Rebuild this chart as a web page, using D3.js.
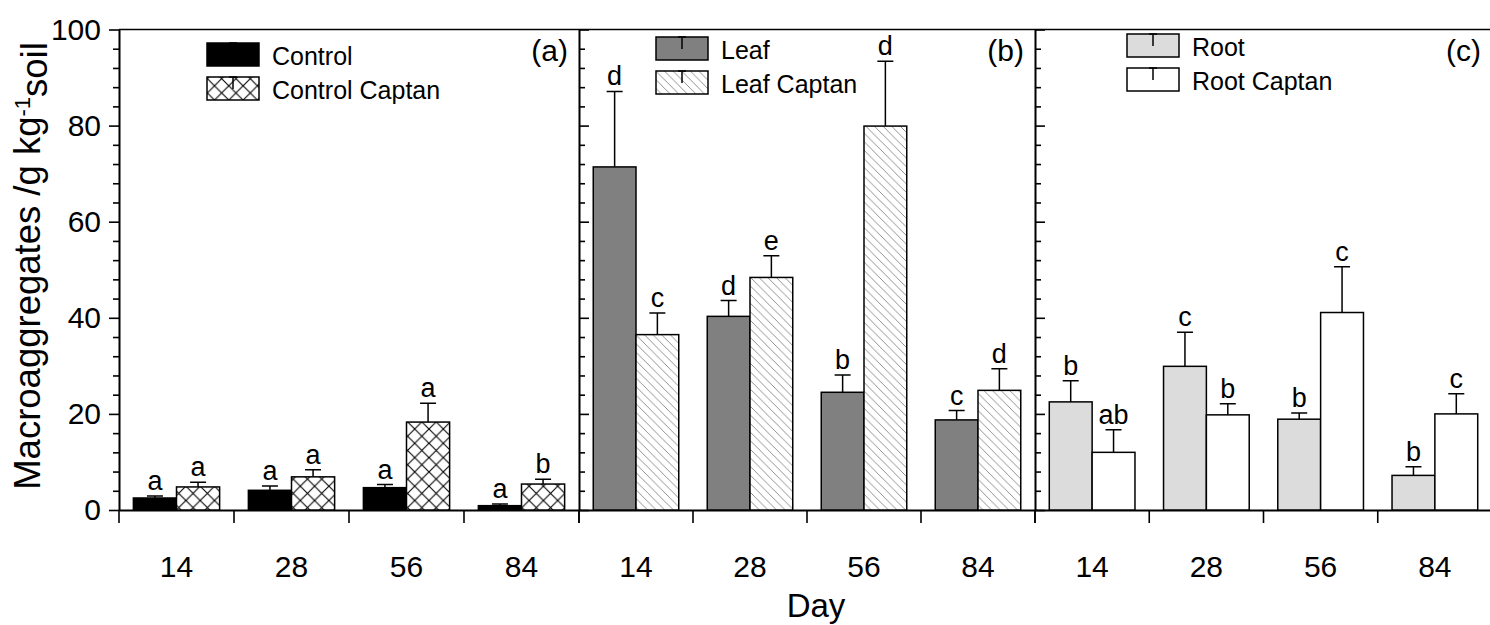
<!DOCTYPE html>
<html>
<head>
<meta charset="utf-8">
<script src="https://cdn.jsdelivr.net/npm/d3@7"></script>
<style>
body { margin: 0; background: #fff; }
svg text { font-family: "Liberation Sans", Arial, sans-serif; fill: #000; }
.axis path, .axis line { stroke: #000; stroke-width: 1.6; }
</style>
</head>
<body>
<svg width="1490" height="625"></svg>
<script>
var days = ['14', '28', '56', '84'];
var yTicks = [0, 20, 40, 60, 80, 100];

// panel (a)
var control = [2.5, 4.1, 4.65, 0.9];
var controlErr = [0.4, 0.9, 0.65, 0.35];
var controlLetters = ['a', 'a', 'a', 'a'];
var controlCaptan = [4.8, 6.9, 18.3, 5.4];
var controlCaptanErr = [1.0, 1.5, 3.9, 1.0];
var controlCaptanLetters = ['a', 'a', 'a', 'b'];

// panel (b)
var leaf = [71.4, 40.3, 24.5, 18.75];
var leafErr = [15.7, 3.3, 3.6, 1.95];
var leafLetters = ['d', 'd', 'b', 'c'];
var leafCaptan = [36.5, 48.4, 79.9, 24.9];
var leafCaptanErr = [4.5, 4.5, 13.5, 4.5];
var leafCaptanLetters = ['c', 'e', 'd', 'd'];

// panel (c)
var root = [22.5, 29.9, 18.9, 7.2];
var rootErr = [4.4, 7.1, 1.3, 1.8];
var rootLetters = ['b', 'c', 'b', 'b'];
var rootCaptan = [12.0, 19.8, 41.1, 20.0];
var rootCaptanErr = [4.7, 2.3, 9.5, 4.2];
var rootCaptanLetters = ['ab', 'b', 'c', 'c'];

function main() {
    var svg = d3.select('svg');
    var bottom = 510, top = 29.5;
    var edges = [119, 579, 1035, 1492]; // panel borders
    var legendPos = [[207, 43], [656, 37], [1127, 34]];

    var yScale = d3.scaleLinear().domain([0, 100]).range([bottom, top]);
    var minorTicks = d3.range(0, 101, 4).filter(function(d) { return d % 20 != 0; });

    // fill patterns
    var defs = svg.append('defs');
    var cross = defs.append('pattern').attr('id', 'cross')
        .attr('patternUnits', 'userSpaceOnUse').attr('width', 14.3).attr('height', 14.3);
    cross.append('rect').attr('width', 14.3).attr('height', 14.3).attr('fill', '#fff');
    cross.append('path').attr('d', 'M0,0L14.3,14.3M14.3,0L0,14.3')
        .attr('stroke', '#000').attr('stroke-width', 1.1);
    var diag = defs.append('pattern').attr('id', 'diag')
        .attr('patternUnits', 'userSpaceOnUse').attr('width', 8.6).attr('height', 8.6);
    diag.append('rect').attr('width', 8.6).attr('height', 8.6).attr('fill', '#fff');
    diag.append('path').attr('d', 'M0,0L8.6,8.6M-1,7.6L1,9.6M7.6,-1L9.6,1')
        .attr('stroke', '#777').attr('stroke-width', 0.8);

    var panels = [
        {tag: '(a)', series: [
            {name: 'Control', values: control, err: controlErr, letters: controlLetters, fill: '#000'},
            {name: 'Control Captan', values: controlCaptan, err: controlCaptanErr, letters: controlCaptanLetters, fill: 'url(#cross)'}]},
        {tag: '(b)', series: [
            {name: 'Leaf', values: leaf, err: leafErr, letters: leafLetters, fill: '#808080'},
            {name: 'Leaf Captan', values: leafCaptan, err: leafCaptanErr, letters: leafCaptanLetters, fill: 'url(#diag)'}]},
        {tag: '(c)', series: [
            {name: 'Root', values: root, err: rootErr, letters: rootLetters, fill: '#dcdcdc'},
            {name: 'Root Captan', values: rootCaptan, err: rootCaptanErr, letters: rootCaptanLetters, fill: '#fff'}]}
    ];

    panels.forEach(function(p, i) {
        var x0 = edges[i], x1 = edges[i + 1];
        var xScale = d3.scaleBand().domain(days).range([x0, x1]).paddingInner(0.25).paddingOuter(0.125);
        var sub = d3.scaleBand().domain([0, 1]).range([0, xScale.bandwidth()]);
        var g = svg.append('g');

        // bottom axis: labels at band centres, ticks at band edges
        var xAxis = g.append('g').attr('class', 'axis')
            .attr('transform', 'translate(0,' + bottom + ')')
            .call(d3.axisBottom(xScale).tickSize(0).tickPadding(46));
        xAxis.select('.domain').style('stroke-width', 2);
        xAxis.selectAll('text').style('font-size', '30px');
        g.selectAll('.edge')
         .data(days.concat(['end']))
         .enter().append('line')
         .attr('x1', function(d, k) { return x0 + k * xScale.step(); })
         .attr('x2', function(d, k) { return x0 + k * xScale.step(); })
         .attr('y1', bottom).attr('y2', bottom + 13)
         .attr('stroke', '#000').attr('stroke-width', 1.6);

        // left axis of each panel
        var yg = g.append('g').attr('class', 'axis').attr('transform', 'translate(' + x0 + ',0)');
        if (i == 0) {
            yg.call(d3.axisLeft(yScale).tickValues(yTicks).tickSize(10).tickSizeOuter(0).tickPadding(8))
              .selectAll('text').style('font-size', '30px');
            yg.append('g').call(d3.axisLeft(yScale).tickValues(minorTicks).tickSize(6).tickSizeOuter(0).tickFormat(''));
        } else {
            yg.call(d3.axisRight(yScale).tickValues(yTicks).tickSize(10).tickSizeOuter(0).tickFormat(''));
            yg.append('g').call(d3.axisRight(yScale).tickValues(minorTicks).tickSize(6).tickSizeOuter(0).tickFormat(''));
        }

        // bars, error bars and letters
        p.series.forEach(function(s, j) {
            var cx = function(d, k) { return xScale(days[k]) + sub(j) + sub.bandwidth() / 2; };
            var tipY = function(d, k) { return yScale(d + s.err[k]); };

            g.selectAll('.bar' + j)
             .data(s.values)
             .enter().append('rect')
             .attr('x', function(d, k) { return xScale(days[k]) + sub(j); })
             .attr('y', function(d) { return yScale(d); })
             .attr('width', sub.bandwidth())
             .attr('height', function(d) { return bottom - yScale(d); })
             .attr('fill', s.fill)
             .attr('stroke', '#000').attr('stroke-width', 1.5);

            g.selectAll('.err' + j)
             .data(s.values)
             .enter().append('path')
             .attr('d', function(d, k) {
                 var x = cx(d, k), yt = tipY(d, k);
                 return 'M' + x + ',' + yScale(d) + 'V' + yt + 'M' + (x - 8) + ',' + yt + 'H' + (x + 8);
             })
             .attr('fill', 'none').attr('stroke', '#000').attr('stroke-width', 1.5);

            g.selectAll('.letter' + j)
             .data(s.values)
             .enter().append('text')
             .attr('x', cx)
             .attr('y', function(d, k) { return tipY(d, k) - 6; })
             .attr('text-anchor', 'middle')
             .style('font-size', '27px')
             .text(function(d, k) { return s.letters[k]; });

            // legend row
            var lx = legendPos[i][0], ly = legendPos[i][1] + j * 34;
            g.append('rect').attr('x', lx).attr('y', ly).attr('width', 52).attr('height', 23)
             .attr('fill', s.fill).attr('stroke', '#000').attr('stroke-width', 1.5);
            g.append('path')
             .attr('d', 'M' + (lx + 26) + ',' + (ly + 12) + 'V' + ly + 'M' + (lx + 22) + ',' + ly + 'H' + (lx + 30))
             .attr('stroke', '#000').attr('stroke-width', 1.5);
            g.append('text').attr('x', lx + 65).attr('y', ly + 21.5)
             .style('font-size', '25px').text(s.name);
        });

        // panel tag
        g.append('text').attr('x', x1 - 11).attr('y', 61)
         .attr('text-anchor', 'end').style('font-size', '30px').text(p.tag);
    });

    // top frame line
    svg.append('line')
       .attr('x1', edges[0]).attr('x2', edges[3])
       .attr('y1', yScale(100)).attr('y2', yScale(100))
       .attr('stroke', '#000').attr('stroke-width', 1.6);

    // axis titles
    svg.append('text')
       .attr('x', 816).attr('y', 617)
       .attr('text-anchor', 'middle').style('font-size', '33px')
       .text('Day');

    var yt = svg.append('text')
       .attr('transform', 'translate(40,266) rotate(-90)')
       .attr('text-anchor', 'middle').style('font-size', '36.5px');
    yt.append('tspan').text('Macroaggregates /g kg');
    yt.append('tspan').attr('dy', '-0.45em').style('font-size', '22px').text('-1');
    yt.append('tspan').attr('dy', '0.45em').text('soil');
}

main();
</script>
</body>
</html>
